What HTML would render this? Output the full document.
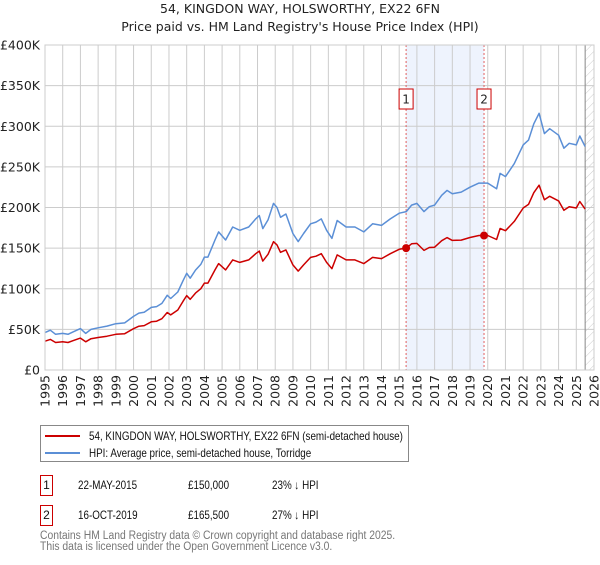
<!DOCTYPE html>
<html><head><meta charset="utf-8"><style>
body{margin:0;background:#fff;font-family:"Liberation Sans","DejaVu Sans",sans-serif;}
svg text{font-family:"DejaVu Sans","Liberation Sans",sans-serif;}
.sx{display:inline-block;transform:scaleX(0.82);transform-origin:0 50%;white-space:nowrap;}
</style></head><body>
<svg id="chart" width="600" height="560" xmlns="http://www.w3.org/2000/svg">
<defs><pattern id="hatch" width="6" height="6" patternUnits="userSpaceOnUse" patternTransform="rotate(45)"><line x1="0" y1="0" x2="0" y2="6" stroke="#ccc" stroke-width="1"/></pattern></defs>
<text x="300" y="13" text-anchor="middle" font-size="12.5" fill="#222">54, KINGDON WAY, HOLSWORTHY, EX22 6FN</text>
<text x="300" y="31" text-anchor="middle" font-size="12.5" fill="#222">Price paid vs. HM Land Registry's House Price Index (HPI)</text>
<g id="grid"></g><g id="plot"></g>
</svg>
<script>
const years=[1995.0,1995.3,1995.6,1996.0,1996.3,1996.6,1997.0,1997.3,1997.6,1998.0,1998.5,1999.0,1999.5,2000.0,2000.3,2000.6,2001.0,2001.3,2001.6,2001.9,2002.1,2002.5,2002.8,2003.0,2003.2,2003.5,2003.8,2004.0,2004.2,2004.6,2004.8,2005.2,2005.6,2006.0,2006.5,2006.9,2007.1,2007.3,2007.6,2007.9,2008.1,2008.3,2008.6,2009.0,2009.3,2009.6,2010.0,2010.3,2010.6,2010.9,2011.2,2011.5,2012.0,2012.5,2013.0,2013.5,2014.0,2014.5,2015.0,2015.4,2015.7,2016.0,2016.4,2016.7,2017.0,2017.4,2017.7,2018.0,2018.5,2019.0,2019.5,2019.8,2020.0,2020.5,2020.7,2021.0,2021.5,2022.0,2022.3,2022.6,2022.9,2023.2,2023.5,2024.0,2024.3,2024.6,2025.0,2025.2,2025.5];
const hpiValues=[46,49,44,45,44,47,51,45,50,52,54,57,58,66,70,71,77,78,82,92,88,96,110,119,113,123,130,139,139,160,170,160,176,172,176,186,190,174,185,205,200,188,192,168,158,168,180,182,186,172,162,184,176,176,170,180,178,186,193,195,203,205,195,201,203,215,221,217,219,225,230,230,230,223,242,238,254,277,283,303,316,291,297,289,273,279,277,288,275];
const priceValues=[35.4,37.7,33.9,34.7,33.9,36.2,39.3,34.7,38.5,40,41.6,43.9,44.7,50.8,53.9,54.7,59.3,60.1,63.1,70.8,67.8,73.9,84.7,91.6,87,94.7,100.1,107,107,123.2,130.9,123.2,135.5,132.4,135.5,143.2,146.3,134,142.5,157.9,154,144.8,147.8,129.4,121.7,129.4,138.6,140.1,143.2,132.4,124.7,141.7,135.5,135.5,130.9,138.6,137.1,143.2,148.6,150,155.3,155.8,147.2,150.8,151.2,159.1,162.9,159.5,159.9,163.1,165.6,165.5,165.6,160.6,174.2,171.4,182.9,199.4,203.8,218.2,227.5,209.5,213.8,208.1,196.6,200.9,199.4,207.4,198];
const saleYears=[2015.39,2019.79];
const saleValues=[150,165.5];
const yTicks=[0,50,100,150,200,250,300,350,400];
const yTickLabels=["£0","£50K","£100K","£150K","£200K","£250K","£300K","£350K","£400K"];
const xTickYears=[1995,1996,1997,1998,1999,2000,2001,2002,2003,2004,2005,2006,2007,2008,2009,2010,2011,2012,2013,2014,2015,2016,2017,2018,2019,2020,2021,2022,2023,2024,2025,2026];
const dataEnd=2025.5;

const L=45,R=594,T=45,B=370;
const X=y=>L+(y-1995)/(2026-1995)*(R-L);
const Y=v=>B-v/400*(B-T);
const NS="http://www.w3.org/2000/svg";
const grid=document.getElementById('grid'),plot=document.getElementById('plot');
function mk(tag,attrs,parent){const e=document.createElementNS(NS,tag);for(const k in attrs)e.setAttribute(k,attrs[k]);parent.appendChild(e);return e;}

let sh=mk('rect',{x:X(saleYears[0]),y:T,width:X(saleYears[1])-X(saleYears[0]),height:B-T,fill:'#eef3fd'},grid);


let hz=mk('rect',{x:X(dataEnd),y:T,width:R-X(dataEnd),height:B-T,fill:'url(#hatch)'},grid);



yTicks.forEach((v,i)=>{
  let l=mk('line',{x1:L,x2:R,y1:Y(v),y2:Y(v),stroke:'#ccc','stroke-width':1},grid);
  
  
  let t=mk('text',{x:40,y:Y(v)+4.5,'text-anchor':'end','font-size':12.5,fill:'#222'},grid);
  t.textContent=yTickLabels[i];
  
  
});
xTickYears.forEach(yr=>{
  let l=mk('line',{x1:X(yr),x2:X(yr),y1:T,y2:B,stroke:'#ccc','stroke-width':1},grid);
  
  
  let t=mk('text',{x:0,y:0,'text-anchor':'end','font-size':12.5,fill:'#222',transform:`translate(${X(yr)+4.5},375) rotate(-90)`},grid);
  t.textContent=yr;
  
  
});
let el=mk('line',{x1:X(dataEnd),x2:X(dataEnd),y1:T,y2:B,stroke:'#888','stroke-width':1},grid);



saleYears.forEach((yr,i)=>{
  let d=mk('line',{x1:X(yr),x2:X(yr),y1:T,y2:B,stroke:'#e06060','stroke-width':1,'stroke-dasharray':'2,2'},plot);
  
  
  let bx=mk('rect',{x:X(yr)-7,y:89,width:14,height:20,fill:'#fff',stroke:'#c00','stroke-width':1},plot);
  
  
  let t=mk('text',{x:X(yr),y:103.5,'text-anchor':'middle','font-size':12,fill:'#222'},plot);
  t.textContent=String(i+1);
  
  
});

function path(vals){return vals.map((v,i)=>(i?'L':'M')+X(years[i]).toFixed(1)+','+Y(v).toFixed(1)).join('');}
let hp=mk('path',{d:path(hpiValues),fill:'none',stroke:'#5b8fd6','stroke-width':1.5,'stroke-linejoin':'round'},plot);


let pp=mk('path',{d:path(priceValues),fill:'none',stroke:'#cc0000','stroke-width':1.5,'stroke-linejoin':'round'},plot);


saleYears.forEach((yr,i)=>{
  let c=mk('circle',{cx:X(yr),cy:Y(saleValues[i]),r:4,fill:'#cc0000'},plot);
  
  
});
let fr=mk('rect',{x:L,y:T,width:R-L,height:B-T,fill:'none',stroke:'#ccc','stroke-width':1},plot);


</script>
<div style="position:absolute;left:40px;top:425px;width:367px;height:35px;border:1px solid #888;font-size:12px;color:#111;">
  <div style="position:absolute;left:4px;top:2px;width:360px;height:16px;">
    <span style="position:absolute;left:0;top:7px;width:35px;height:2px;background:#cc0000;"></span>
    <span class="sx" style="position:absolute;left:44px;top:0;line-height:16px;">54, KINGDON WAY, HOLSWORTHY, EX22 6FN (semi-detached house)</span>
  </div>
  <div style="position:absolute;left:4px;top:19px;width:360px;height:16px;">
    <span style="position:absolute;left:0;top:7px;width:35px;height:2px;background:#5b8fd6;"></span>
    <span class="sx" style="position:absolute;left:44px;top:0;line-height:16px;">HPI: Average price, semi-detached house, Torridge</span>
  </div>
</div>
<div style="position:absolute;left:40px;top:475px;font-size:12px;color:#111;">
  <span style="position:absolute;left:0;top:0;width:11px;height:19px;border:1px solid #c00;text-align:center;line-height:19px;">1</span>
  <span class="sx" style="position:absolute;left:38px;top:3px;">22-MAY-2015</span>
  <span class="sx" style="position:absolute;left:148px;top:3px;">£150,000</span>
  <span class="sx" style="position:absolute;left:232px;top:3px;">23% ↓ HPI</span>
</div>
<div style="position:absolute;left:40px;top:505px;font-size:12px;color:#111;">
  <span style="position:absolute;left:0;top:0;width:11px;height:19px;border:1px solid #c00;text-align:center;line-height:19px;">2</span>
  <span class="sx" style="position:absolute;left:38px;top:3px;">16-OCT-2019</span>
  <span class="sx" style="position:absolute;left:148px;top:3px;">£165,500</span>
  <span class="sx" style="position:absolute;left:232px;top:3px;">27% ↓ HPI</span>
</div>
<div style="position:absolute;left:40px;top:531px;font-size:11.5px;line-height:10.5px;color:#777;white-space:nowrap;transform:scaleX(0.9);transform-origin:0 0;">Contains HM Land Registry data © Crown copyright and database right 2025.<br>This data is licensed under the Open Government Licence v3.0.</div>
</body></html>
